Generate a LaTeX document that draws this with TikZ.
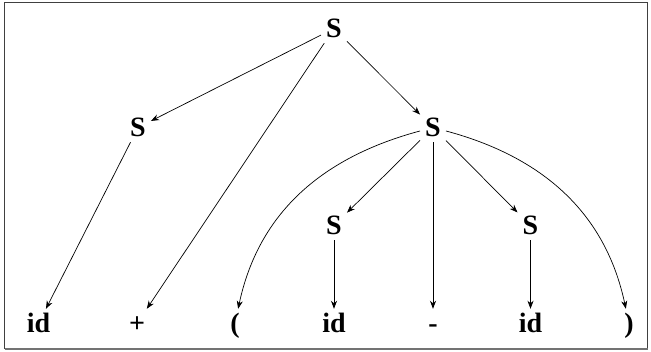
\documentclass[tikz,border=0pt]{standalone}
\usepackage{fontspec}
\setmainfont{Liberation Serif}
\usetikzlibrary{arrows.meta}
\begin{document}
\begin{tikzpicture}[x=1pt,y=1pt,
  sym/.style={anchor=base,font=\fontsize{28}{32}\selectfont\bfseries,
    text height=19pt,text depth=0pt,inner sep=5pt},
  edge/.style={line width=0.7pt,-{Stealth[length=8pt,width=6pt,inset=2.5pt]}}]
\useasboundingbox (0,0) rectangle (651,351);
\draw[line width=0.8pt,black!75] (4.5,2.5) rectangle (647.5,348.5);
\draw[line width=1.6pt,black!55] (4.5,2.2) -- (647.5,2.2);
% nodes
\node[sym] (top) at (334,313) {S};
\node[sym] (sl) at (138,214) {S};
\node[sym] (sr) at (433,214) {S};
\node[sym] (m1) at (334,116) {S};
\node[sym] (m2) at (530.5,116) {S};
\node[sym] (b1) at (38.5,18) {id};
\node[sym] (b2) at (137,18) {+};
\node[sym] (b3) at (235,18) {(};
\node[sym] (b4) at (334,18) {id};
\node[sym] (b5) at (433,18) {-};
\node[sym] (b6) at (530.5,18) {id};
\node[sym] (b7) at (629,18) {)};
% edges
\draw[edge] (top) -- (sl);
\draw[edge] (top) -- (b2);
\draw[edge] (top) -- (sr);
\draw[edge] (sl) -- (b1);
\draw[edge] (sr) to[out=195,in=78] (b3);
\draw[edge] (sr) -- (m1);
\draw[edge] (sr) -- (b5);
\draw[edge] (sr) -- (m2);
\draw[edge] (sr) to[out=-15,in=102] (b7);
\draw[edge] (m1) -- (b4);
\draw[edge] (m2) -- (b6);
\end{tikzpicture}
\end{document}
